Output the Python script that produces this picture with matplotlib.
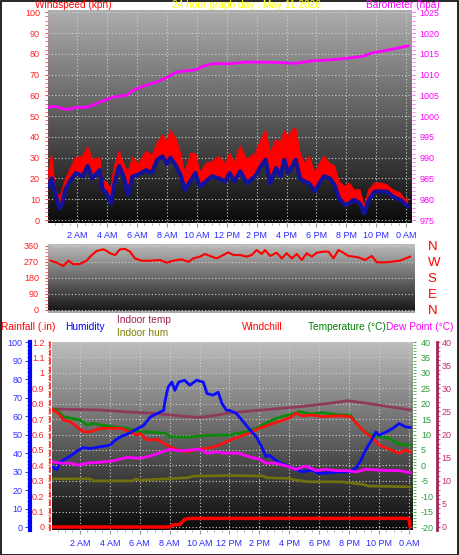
import matplotlib
matplotlib.use('Agg')
import matplotlib.pyplot as plt
import numpy as np
from matplotlib.ticker import MultipleLocator, FuncFormatter
from matplotlib.patches import Rectangle

plt.rcParams['font.family'] = ['Liberation Sans', 'DejaVu Sans']
plt.rcParams['axes.unicode_minus'] = False

W, H = 459, 555
PT = 0.72  # points per pixel at dpi 100

hour_ticks = [2, 4, 6, 8, 10, 12, 14, 16, 18, 20, 22, 24]
hour_labels = ['2 AM', '4 AM', '6 AM', '8 AM', '10 AM', '12 PM',
               '2 PM', '4 PM', '6 PM', '8 PM', '10 PM', '0 AM']

# windspeed (kph): gust (red) and average (blue)
wind_hours = [0.05, 0.3, 0.5, 0.8, 1.0, 1.2, 1.5, 1.9, 2.35, 2.7, 3.0, 3.5, 3.7, 3.9,
              4.25, 4.5, 4.8, 5.1, 5.4, 5.7, 6.1, 6.6, 7.0, 7.35, 7.7, 8.0, 8.25, 8.6,
              8.9, 9.2, 9.6, 9.9, 10.2, 10.6, 11.0, 11.5, 11.9, 12.2, 12.5, 12.9, 13.35,
              13.9, 14.3, 14.6, 14.9, 15.3, 15.6, 15.85, 16.1, 16.4, 16.6, 16.9, 17.2,
              17.5, 17.9, 18.2, 18.5, 18.9, 19.2, 19.5, 19.9, 20.2, 20.5, 20.9, 21.2,
              21.5, 21.9, 22.3, 22.7, 23.1, 23.6, 23.9, 24.1]
wind_gust = [21.8, 31, 16, 10.5, 14.5, 19, 24, 30, 30.6, 35, 29, 30, 18.5, 18.5,
             15, 26, 33, 27, 22.6, 30, 27, 33, 31, 37, 41, 38, 43, 39,
             32, 22.6, 32, 32, 22.6, 27, 28, 30.6, 26.6, 32, 27, 35.5, 29,
             32, 38.7, 43, 32, 38.7, 37, 43, 40, 43.5, 44, 32, 27,
             30.6, 22.6, 27, 30.6, 27, 26, 18.5, 16, 17.7, 14.5, 14.5, 6.5,
             14.5, 17.7, 17.7, 17, 14.5, 13, 9.7, 10.5]
wind_avg = [16, 20, 14, 5.6, 8, 14.5, 18.5, 22.6, 21, 26, 20, 24, 14.5, 13.7,
            8, 17.7, 26, 21, 12, 21, 21.8, 24, 22.6, 29, 30.6, 27, 30, 26,
            21.8, 14.5, 19, 22.6, 16, 18.5, 21, 20, 18.5, 22.6, 18.5, 23.4, 17.7,
            21, 26, 29, 17.7, 25, 21, 29, 22.6, 26, 29, 20, 18.5,
            17.7, 13.7, 17.7, 21, 20, 17, 10.5, 7.3, 8, 9.7, 8, 3.2,
            9.7, 13.7, 13.7, 13.7, 11.3, 9.7, 8, 6.5]

# barometer (hpa)
baro_hours = [0.07, 0.4, 1.3, 1.97, 2.63, 3.3, 3.97, 4.41, 5.31, 5.75, 6.42, 7.32,
              7.99, 8.66, 9.32, 9.99, 10.4, 11.1, 12.15, 13.27, 14.38, 15.5, 16.6,
              17.7, 18.8, 19.97, 21.1, 21.7, 22.9, 24.1]
baro_hpa = [1002.1, 1002.4, 1001.6, 1002.1, 1002.1, 1003.05, 1004.0, 1004.6, 1005.05,
            1006.25, 1007.2, 1008.25, 1009.3, 1010.65, 1010.9, 1011.2, 1012.0, 1012.65,
            1012.6, 1013.0, 1013.0, 1012.9, 1012.7, 1013.3, 1013.5, 1013.9, 1014.4,
            1015.2, 1016.0, 1016.9]

# wind direction (degrees)
dir_hours = [0.23, 0.63, 1.07, 1.41, 1.74, 2.19, 2.63, 2.97, 3.3, 3.75, 3.97, 4.19,
             4.53, 4.86, 5.2, 5.53, 5.86, 6.31, 6.86, 7.53, 7.98, 8.43, 8.99, 9.43,
             9.77, 10.21, 10.55, 11.0, 11.33, 11.77, 12.11, 12.44, 12.89, 13.33, 13.67,
             14.0, 14.34, 14.56, 14.9, 15.34, 15.68, 16.01, 16.35, 16.68, 17.02, 17.35,
             17.69, 18.02, 18.46, 18.8, 19.14, 19.47, 19.8, 20.13, 20.8, 21.25, 21.7,
             22.03, 22.7, 23.59, 24.26]
dir_deg = [277, 266, 247, 277, 257, 259, 277, 309, 332, 341, 332, 319,
           309, 341, 343, 328, 290, 277, 277, 281, 266, 277, 285, 270,
           290, 300, 315, 300, 290, 309, 324, 309, 309, 300, 309,
           337, 315, 337, 304, 322, 290, 319, 290, 315, 281, 319,
           300, 322, 328, 328, 290, 337, 322, 304, 296, 281, 304,
           268, 268, 277, 300]

# humidity (%)
hum_hours = [0.2, 0.45, 0.67, 1.0, 1.45, 1.9, 2.2, 2.7, 3.3, 4.0, 4.35, 4.7, 5.15, 5.55,
             6.25, 6.7, 7.15, 7.6, 7.7, 7.9, 8.15, 8.35, 8.6, 9.0, 9.35, 9.8, 10.25,
             10.5, 10.9, 11.25, 11.5, 11.8, 12.0, 12.45, 12.85, 13.3, 13.8, 14.2, 14.45,
             14.65, 15.1, 15.5, 16.0, 16.45, 16.85, 17.5, 18.0, 18.7, 19.3, 20.0, 20.45,
             20.8, 21.1, 21.5, 21.8, 22.0, 22.5, 22.9, 23.35, 23.8, 24.1]
hum_pct = [32.4, 31, 35, 36.7, 39, 41.6, 43, 42.5, 43.4, 44.3, 47, 48.8, 50.3, 52,
           55, 59.6, 61.4, 63.2, 68.6, 75.8, 78.5, 74, 78.5, 79.5, 76.8, 79.5, 78.5,
           72.3, 71.4, 73, 66.9, 63.2, 63.2, 61.6, 57.8, 53.3, 48.8, 42.7, 38,
           39, 36.2, 34.4, 32.6, 31.2, 29.9, 30.8, 29, 29.4, 29.9, 29.9, 31.7,
           36.2, 41.6, 47, 51.5, 49.7, 51.5, 53.3, 56, 54.2, 53.9]

# temperature (C)
temp_hours = [0.1, 0.45, 0.9, 1.35, 2.0, 2.45, 2.9, 3.35, 4.2, 5.1, 6.0, 7.0, 7.7, 8.0,
              9.2, 10.0, 11.2, 12.0, 13.1, 13.8, 14.2, 14.85, 15.5, 16.2, 16.7, 17.5,
              18.2, 18.9, 19.5, 20.1, 20.5, 20.9, 21.3, 21.8, 22.7, 23.35, 24.1]
temp_c = [18.3, 17.9, 15.8, 15.3, 14.7, 13.1, 13.6, 13.1, 12.5, 12.0, 10.9, 10.7, 10.4, 9.3,
          9.1, 9.5, 9.8, 9.8, 10.9, 12.0, 13.1, 14.7, 15.8, 16.6, 17.4, 16.6,
          17.1, 16.6, 16.3, 16.3, 13.6, 11.5, 10.2, 9.5, 8.8, 6.9, 6.6]

# windchill (C)
chill_hours = [0.1, 0.55, 0.9, 1.35, 1.8, 2.2, 2.7, 3.35, 4.0, 4.7, 5.35, 5.8, 6.0, 6.5,
               7.15, 7.8, 8.5, 9.2, 9.8, 10.5, 11.2, 11.8, 12.4, 13.3, 14.0, 14.65, 15.3,
               16.0, 16.45, 16.85, 17.5, 18.2, 18.9, 19.5, 20.1, 20.5, 20.9, 21.3, 21.5,
               22.0, 22.7, 23.35, 23.8, 24.1]
chill_c = [18.3, 16.9, 14.7, 14.2, 12.5, 10.9, 10.9, 12.0, 12.0, 12.0, 10.9, 9.8, 10.4, 8.2,
           8.4, 6.6, 5.0, 4.4, 5.2, 5.5, 6.3, 7.7, 8.8, 10.4, 12.0, 13.1, 14.2,
           15.3, 16.9, 16.0, 16.3, 15.8, 16.0, 16.0, 15.8, 13.6, 11.5, 9.8, 9.3,
           6.6, 5.2, 3.9, 5.0, 4.4]

# dew point (C)
dew_hours = [0.1, 0.67, 1.35, 1.9, 2.45, 3.35, 4.2, 5.15, 6.0, 6.7, 7.35, 8.0, 8.7, 9.35,
             10.0, 10.5, 11.2, 11.6, 12.0, 12.65, 13.3, 14.0, 14.45, 15.1, 15.8, 16.45,
             17.1, 17.8, 18.45, 19.1, 19.8, 20.5, 21.1, 21.8, 22.7, 23.35, 24.1]
dew_c = [1.2, 0.7, 0.7, 0.1, 0.7, 1.0, 1.4, 2.6, 2.3, 3.0, 4.1, 5.2, 4.7, 5.0,
         5.2, 3.9, 4.4, 3.9, 4.0, 3.9, 2.8, 2.0, 0.7, 0.7, -0.2, -1.3,
         -0.2, -1.7, -1.3, -1.7, -1.7, -2.1, -1.3, -1.5, -1.7, -1.7, -2.4]

# indoor temp (C) and indoor humidity (%)
in_temp_hours = [0.1, 1.8, 3.35, 5.1, 6.9, 8.7, 10.0, 11.2, 12.0, 14.2, 16.4, 18.6, 19.9,
                 21.3, 22.7, 24.1]
in_temp_c = [25.5, 25.4, 25.3, 24.9, 24.6, 24.0, 23.7, 24.2, 24.7, 25.3, 25.9, 26.7, 27.3,
             26.7, 26.0, 25.3]
in_hum_hours = [0.1, 2.7, 2.9, 5.55, 5.7, 6.0, 7.8, 9.2, 9.6, 12.0, 14.3, 14.45, 16.0,
                16.45, 17.3, 19.5, 20.0, 20.9, 21.3, 24.1]
in_hum_pct = [26.1, 26.1, 25.0, 25.0, 26.1, 25.4, 26.1, 26.7, 27.6, 27.9, 27.6, 26.7, 26.3,
              25.4, 24.5, 24.5, 24.0, 23.2, 22.2, 21.8]

# rainfall (in)
rain_hours = [0.1, 8.0, 8.2, 8.7, 9.0, 9.35, 24.0, 24.1]
rain_in = [0, 0, 0.013, 0.017, 0.05, 0.056, 0.056, 0]


def px_axes(fig, x0, y0, x1, y1):
    return fig.add_axes([x0 / W, 1 - y1 / H, (x1 - x0) / W, (y1 - y0) / H])


def shade(ax, top, bottom):
    grad = np.linspace(top, bottom, 256).reshape(-1, 1)
    ax.imshow(grad, cmap='gray', vmin=0, vmax=1, aspect='auto',
              extent=[0, 1, 0, 1], transform=ax.transAxes, zorder=0)


def hide_spines(ax):
    for s in ax.spines.values():
        s.set_visible(False)


def hour_axis(ax, labels=True, pad=4):
    ax.set_xticks(hour_ticks)
    ax.xaxis.set_minor_locator(MultipleLocator(0.5))
    if labels:
        ax.set_xticklabels(hour_labels)
    else:
        ax.set_xticklabels([])
    ax.tick_params(axis='x', which='major', length=4 * PT, color='#9a9a9a',
                   labelcolor='#2828ff', labelsize=6.5, pad=pad * PT)
    ax.tick_params(axis='x', which='minor', length=2.5 * PT, color='#9a9a9a')


grid_kw = dict(color='#d0d0d0', linestyle=(0, (1, 2)), linewidth=0.8)

fig = plt.figure(figsize=(W / 100, H / 100), dpi=100)
fig.patch.set_facecolor('white')

# ---------------- top panel: windspeed + barometer ----------------
ax1 = px_axes(fig, 48, 10, 412, 223)
shade(ax1, 0.68, 0.04)
hide_spines(ax1)
ax1.fill_between(wind_hours, wind_avg, wind_gust, color='#ff0000', lw=0, zorder=3)
ax1.plot(wind_hours, wind_gust, color='#ff0000', lw=1.0, zorder=3)
ax1.plot(wind_hours, wind_avg, color='#12129a', lw=3, zorder=4)
ax1.set_xlim(0.047, 24.39)
ax1.set_ylim(-1.44, 101.1)
ax1.yaxis.set_major_locator(MultipleLocator(10))
ax1.yaxis.set_minor_locator(MultipleLocator(2))
ax1.tick_params(axis='y', which='both', length=3 * PT, color='#ff5050',
                labelcolor='#ff2020', labelsize=6.5, pad=5 * PT)
hour_axis(ax1)
ax1.grid(True, which='major', **grid_kw)

ax1b = ax1.twinx()
hide_spines(ax1b)
ax1b.plot(baro_hours, baro_hpa, color='#ff00ff', lw=2, zorder=5)
ax1b.set_ylim(975 - 0.72, 1025 + 0.55)
ax1b.yaxis.set_major_locator(MultipleLocator(5))
ax1b.yaxis.set_minor_locator(MultipleLocator(1))
ax1b.tick_params(axis='y', which='both', length=3 * PT, color='#ff60ff',
                 labelcolor='#ff00ff', labelsize=6.5, pad=4.5 * PT)
ax1.yaxis.tick_left()

# ---------------- middle panel: wind direction ----------------
ax2 = px_axes(fig, 48, 244, 415, 313)
shade(ax2, 0.74, 0.07)
hide_spines(ax2)
ax2.add_patch(Rectangle((0, 0), 1, 0.03, transform=ax2.transAxes,
                        color='#a8a8a8', zorder=1))
ax2.plot(dir_hours, dir_deg, color='#ff0000', lw=1.5, zorder=3)
ax2.set_xlim(0.047, 24.59)
ax2.set_ylim(-17, 371)
ax2.set_yticks([0, 90, 180, 270, 360])
ax2.yaxis.set_minor_locator(MultipleLocator(18))
ax2.tick_params(axis='y', which='both', length=3 * PT, color='#ff5050',
                labelcolor='#ff2020', labelsize=6.5, pad=6 * PT)
ax2.set_xticks([])
ax2.grid(True, axis='y', which='major', **grid_kw)

ax2b = ax2.twinx()
hide_spines(ax2b)
ax2b.set_ylim(-17, 371)
ax2b.set_yticks([0, 90, 180, 270, 360])
ax2b.set_yticklabels(['N', 'E', 'S', 'W', 'N'])
ax2b.tick_params(axis='y', length=0, labelcolor='#ff0000', labelsize=9.5, pad=12.5 * PT)
ax2.yaxis.tick_left()

# ---------------- bottom panel: temperatures, humidity, rain ----------------
ax3 = px_axes(fig, 52, 342, 413, 530)
shade(ax3, 0.74, 0.04)
hide_spines(ax3)
ax3.set_xlim(0.13, 24.28)
ax3.set_ylim(-20.97, 40)
hour_axis(ax3, pad=5)
ax3.grid(True, which='major', **grid_kw)

ax3i = ax3.twinx()
hide_spines(ax3i)
ax3i.plot(in_temp_hours, in_temp_c, color='#8e3a5c', lw=2, zorder=3)
ax3i.set_ylim(-0.65, 40)
ax3i.spines['right'].set_visible(True)
ax3i.spines['right'].set_position(('outward', 23.5 * PT))
ax3i.spines['right'].set_color('#a0245a')
ax3i.spines['right'].set_linewidth(2)
ax3i.yaxis.set_major_locator(MultipleLocator(5))
ax3i.yaxis.set_minor_locator(MultipleLocator(1))
ax3i.tick_params(axis='y', which='both', length=3 * PT, color='#c05080',
                 labelcolor='#c0306a', labelsize=6.5, pad=2 * PT)

ax3r = ax3.twinx()
hide_spines(ax3r)
ax3r.plot(rain_hours, rain_in, color='#ff0000', lw=2.5, zorder=3)
ax3r.set_ylim(-0.0195, 1.2)
ax3r.yaxis.tick_left()
ax3r.spines['left'].set_visible(True)
ax3r.spines['left'].set_position(('outward', 2 * PT))
ax3r.spines['left'].set_color('#ff4040')
ax3r.spines['left'].set_linewidth(1.5)
ax3r.spines['left'].set_linestyle((0, (2, 2)))
ax3r.yaxis.set_major_locator(MultipleLocator(0.1))
ax3r.yaxis.set_minor_locator(MultipleLocator(0.02))
ax3r.yaxis.set_major_formatter(FuncFormatter(lambda v, p: '%g' % round(v, 2)))
ax3r.tick_params(axis='y', which='both', length=2.5 * PT, color='#ff5050',
                 labelcolor='#ff2020', labelsize=6.5, pad=3 * PT)

ax3t = ax3.twinx()
hide_spines(ax3t)
ax3t.set_ylim(-20.97, 40)
ax3t.set_yticks([])
ax3t.plot(temp_hours, temp_c, color='#0a8a0a', lw=2, zorder=3)
ax3t.plot(chill_hours, chill_c, color='#ff1010', lw=2, zorder=3)

ax3h = ax3.twinx()
hide_spines(ax3h)
ax3h.plot(in_hum_hours, in_hum_pct, color='#707010', lw=2, zorder=3)
ax3h.plot(hum_hours, hum_pct, color='#0a0aff', lw=2, zorder=4)
ax3h.set_ylim(-1.6, 100.2)
ax3h.yaxis.tick_left()
ax3h.spines['left'].set_visible(True)
ax3h.spines['left'].set_position(('outward', 22 * PT))
ax3h.spines['left'].set_color('#0000ff')
ax3h.spines['left'].set_linewidth(3)
ax3h.yaxis.set_major_locator(MultipleLocator(10))
ax3h.yaxis.set_minor_locator(MultipleLocator(2))
ax3h.tick_params(axis='y', which='major', length=5 * PT, color='#4040ff',
                 labelcolor='#3030ff', labelsize=6.5, pad=2.5 * PT)
ax3h.tick_params(axis='y', which='minor', length=3 * PT, color='#4040ff')

ax3d = ax3.twinx()
hide_spines(ax3d)
ax3d.set_ylim(-20.97, 40)
ax3d.set_yticks([])
ax3d.plot(dew_hours, dew_c, color='#ff00ff', lw=2, zorder=3)

# temperature axis on the right of the base axes
ax3.yaxis.tick_right()
ax3.yaxis.set_major_locator(MultipleLocator(5))
ax3.yaxis.set_minor_locator(MultipleLocator(1))
ax3.tick_params(axis='y', which='both', length=3 * PT, color='#40b040',
                labelcolor='#2a9a3a', labelsize=6.5, pad=5 * PT)
ax3.set_zorder(0)

# ---------------- headings ----------------
def label(x, y, s, color):
    fig.text(x / W, 1 - y / H, s, color=color, fontsize=7.3, ha='left', va='center')


label(35, 5, 'Windspeed (kph)', '#ff0000')
label(172, 5, '24 hour graph day : May 11 2026', '#ffff00')
label(366, 5, 'Barometer (hpa)', '#ff00ff')

label(1, 327, 'Rainfall (.in)', '#ff0000')
label(65, 327, 'Humidity', '#0000ff')
label(117, 320, 'Indoor temp', '#a0205a')
label(117, 333, 'Indoor hum', '#808000')
label(242, 327, 'Windchill', '#ff0000')
label(308, 327, 'Temperature (°C)', '#008000')
label(386, 327, 'Dew Point (°C)', '#ff00ff')

fig.add_artist(Rectangle((0.5 / W, 0.5 / H), 1 - 1.5 / W, 1 - 1.5 / H,
                         transform=fig.transFigure, fill=False,
                         edgecolor='black', lw=1.2))

fig.savefig('out.png', dpi=100)
